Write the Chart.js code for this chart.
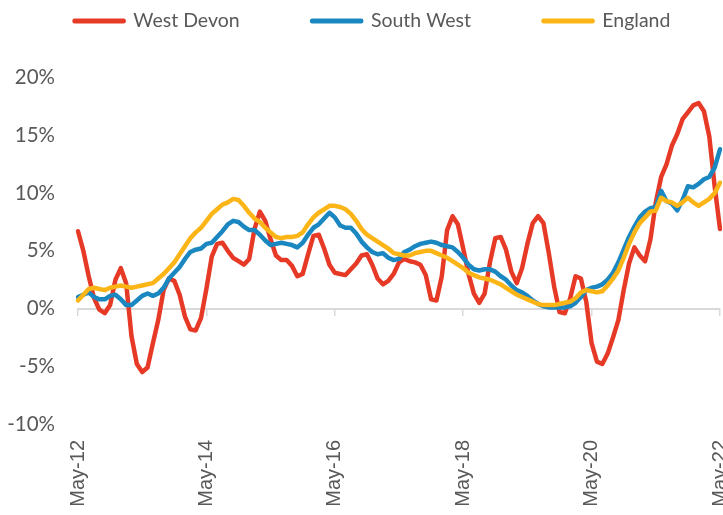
<!DOCTYPE html>
<html>
<head>
<meta charset="utf-8">
<script src="https://cdn.jsdelivr.net/npm/chart.js@4/dist/chart.umd.min.js"></script>
<style>
html,body{margin:0;padding:0;background:#ffffff;overflow:hidden;}
#wrap{width:723px;height:515px;position:relative;}
canvas{display:block;}
</style>
</head>
<body>
<div id="wrap"><canvas id="c" width="723" height="515"></canvas></div>
<script>
const categories = [
  'May-12','Jun-12','Jul-12','Aug-12','Sep-12','Oct-12','Nov-12','Dec-12',
  'Jan-13','Feb-13','Mar-13','Apr-13','May-13','Jun-13','Jul-13','Aug-13','Sep-13','Oct-13','Nov-13','Dec-13',
  'Jan-14','Feb-14','Mar-14','Apr-14','May-14','Jun-14','Jul-14','Aug-14','Sep-14','Oct-14','Nov-14','Dec-14',
  'Jan-15','Feb-15','Mar-15','Apr-15','May-15','Jun-15','Jul-15','Aug-15','Sep-15','Oct-15','Nov-15','Dec-15',
  'Jan-16','Feb-16','Mar-16','Apr-16','May-16','Jun-16','Jul-16','Aug-16','Sep-16','Oct-16','Nov-16','Dec-16',
  'Jan-17','Feb-17','Mar-17','Apr-17','May-17','Jun-17','Jul-17','Aug-17','Sep-17','Oct-17','Nov-17','Dec-17',
  'Jan-18','Feb-18','Mar-18','Apr-18','May-18','Jun-18','Jul-18','Aug-18','Sep-18','Oct-18','Nov-18','Dec-18',
  'Jan-19','Feb-19','Mar-19','Apr-19','May-19','Jun-19','Jul-19','Aug-19','Sep-19','Oct-19','Nov-19','Dec-19',
  'Jan-20','Feb-20','Mar-20','Apr-20','May-20','Jun-20','Jul-20','Aug-20','Sep-20','Oct-20','Nov-20','Dec-20',
  'Jan-21','Feb-21','Mar-21','Apr-21','May-21','Jun-21','Jul-21','Aug-21','Sep-21','Oct-21','Nov-21','Dec-21',
  'Jan-22','Feb-22','Mar-22','Apr-22','May-22'
];

const seriesNames = ['West Devon', 'South West', 'England'];

const westDevon = [
  6.7, 5.0, 2.8, 0.9, -0.1, -0.4, 0.3, 2.5, 3.5, 2.2,
  -2.4, -4.8, -5.5, -5.1, -3.0, -1.0, 1.6, 2.6, 2.4, 1.2,
  -0.7, -1.8, -1.9, -0.8, 1.7, 4.5, 5.6, 5.7, 5.0, 4.4,
  4.1, 3.8, 4.3, 6.9, 8.4, 7.6, 6.0, 4.6, 4.2, 4.2,
  3.7, 2.8, 3.0, 4.7, 6.3, 6.4, 5.2, 3.8, 3.1, 3.0,
  2.9, 3.4, 3.9, 4.6, 4.7, 3.8, 2.6, 2.1, 2.4, 3.0,
  4.0, 4.3, 4.1, 4.0, 3.8, 2.9, 0.8, 0.7, 2.8, 6.8,
  8.0, 7.3, 5.2, 3.0, 1.3, 0.5, 1.3, 4.0, 6.1, 6.2,
  5.1, 3.2, 2.2, 3.5, 5.6, 7.4, 8.0, 7.4, 4.8, 1.9,
  -0.3, -0.4, 0.9, 2.8, 2.6, 0.6, -3.0, -4.6, -4.8, -3.9,
  -2.5, -1.0, 1.6, 3.9, 5.3, 4.6, 4.1, 6.0, 9.2, 11.4,
  12.5, 14.1, 15.1, 16.4, 17.0, 17.6, 17.8, 17.1, 14.9, 10.6,
  6.9
];

const southWest = [
  1.0, 1.2, 1.4, 1.0, 0.8, 0.8, 1.1, 1.2, 0.8, 0.3,
  0.3, 0.7, 1.1, 1.3, 1.1, 1.3, 1.8, 2.6, 3.1, 3.6,
  4.3, 4.9, 5.1, 5.2, 5.6, 5.7, 6.2, 6.7, 7.3, 7.6,
  7.5, 7.1, 6.8, 6.8, 6.4, 5.9, 5.5, 5.6, 5.7, 5.6,
  5.5, 5.3, 5.7, 6.4, 7.0, 7.3, 7.8, 8.3, 7.9, 7.2,
  7.0, 7.0, 6.5, 5.8, 5.3, 4.9, 4.7, 4.8, 4.4, 4.2,
  4.3, 4.9, 5.1, 5.4, 5.6, 5.7, 5.8, 5.7, 5.5, 5.4,
  5.3, 4.9, 4.4, 3.8, 3.4, 3.3, 3.4, 3.4, 3.2, 2.8,
  2.5, 2.0, 1.6, 1.4, 1.1, 0.7, 0.4, 0.2, 0.1, 0.1,
  0.1, 0.1, 0.2, 0.5, 1.0, 1.6, 1.8, 1.9, 2.1, 2.5,
  3.1, 4.0, 5.1, 6.2, 7.1, 7.9, 8.4, 8.7, 8.8, 10.2,
  9.3, 9.1, 8.5, 9.4, 10.6, 10.5, 10.8, 11.2, 11.4, 12.2,
  13.8
];

const england = [
  0.7, 1.2, 1.7, 1.8, 1.7, 1.6, 1.8, 1.9, 2.0, 1.9,
  1.8, 1.9, 2.0, 2.1, 2.2, 2.6, 3.0, 3.5, 4.0, 4.7,
  5.4, 6.1, 6.6, 7.0, 7.6, 8.2, 8.6, 9.0, 9.2, 9.5,
  9.4, 8.9, 8.3, 7.8, 7.5, 7.0, 6.6, 6.2, 6.1, 6.2,
  6.2, 6.3, 6.6, 7.3, 7.9, 8.3, 8.6, 8.9, 8.9, 8.8,
  8.6, 8.2, 7.6, 6.9, 6.4, 6.1, 5.8, 5.5, 5.2, 4.8,
  4.7, 4.6, 4.6, 4.8, 4.9, 5.0, 5.0, 4.8, 4.6, 4.4,
  4.1, 3.8, 3.5, 3.1, 2.9, 2.7, 2.6, 2.5, 2.3, 2.1,
  1.8, 1.5, 1.2, 1.0, 0.8, 0.6, 0.4, 0.3, 0.3, 0.3,
  0.4, 0.5, 0.6, 0.9, 1.4, 1.6, 1.5, 1.4, 1.5, 2.0,
  2.6, 3.3, 4.4, 5.6, 6.6, 7.4, 7.9, 8.4, 8.5, 9.6,
  9.3, 9.2, 8.9, 9.2, 9.6, 9.2, 8.9, 9.2, 9.5, 10.0,
  10.9
];

const xTickLabels = ['May-12', 'May-14', 'May-16', 'May-18', 'May-20', 'May-22'];
// y axis: labelled ticks run -10%..20% in steps of 5; the plot area extends a little above 20%
const yMin = -10, yMax = 23.2, yStep = 5;

const colors = ['#E63A27', '#1A87C0', '#FCB517'];
const textColor = '#595959';
const axisColor = '#D9D9D9';

Chart.defaults.font.family = 'Lato';

new Chart(document.getElementById('c'), {
  type: 'line',
  data: {
    labels: categories,
    datasets: [
      { label: seriesNames[0], data: westDevon, borderColor: colors[0], backgroundColor: colors[0], order: 2 },
      { label: seriesNames[1], data: southWest, borderColor: colors[1], backgroundColor: colors[1], order: 1 },
      { label: seriesNames[2], data: england, borderColor: colors[2], backgroundColor: colors[2], order: 0 }
    ]
  },
  options: {
    responsive: false,
    animation: false,
    events: [],
    layout: { padding: { top: -61.25, left: -6, right: -28, bottom: 0 } },
    elements: {
      point: { radius: 0 },
      line: { borderWidth: 4.5, tension: 0, borderCapStyle: 'round', borderJoinStyle: 'round' }
    },
    plugins: {
      tooltip: { enabled: false },
      legend: {
        position: 'top',
        align: 'center',
        labels: {
          boxWidth: 49,
          boxHeight: 0.5,
          padding: 72.5,
          color: textColor,
          font: { family: 'Lato', size: 19.5 },
          sort: (a, b) => a.datasetIndex - b.datasetIndex
        }
      }
    },
    scales: {
      x: {
        type: 'category',
        position: { y: 0 },
        grid: {
          display: true,
          drawOnChartArea: false,
          drawTicks: true,
          tickLength: 6,
          lineWidth: 1.5,
          color: (c) => (c.index % 24 === 0 ? axisColor : 'rgba(0,0,0,0)')
        },
        border: { display: true, color: axisColor, width: 2 },
        ticks: { display: false, autoSkip: false },
        afterFit: (s) => { s.paddingLeft = 0; s.paddingRight = 0; }
      },
      x2: {
        type: 'category',
        position: 'bottom',
        grid: { display: false, drawTicks: false },
        border: { display: false },
        ticks: {
          autoSkip: false,
          maxRotation: 90,
          minRotation: 90,
          padding: 16,
          color: textColor,
          font: { family: 'Liberation Sans', size: 20 },
          callback: function (v) {
            const l = this.getLabelForValue(v);
            return xTickLabels.includes(l) ? l : '';
          }
        },
        afterFit: (s) => { s.height = 91; s.paddingLeft = 0; s.paddingRight = 3; }
      },
      y: {
        min: yMin,
        max: yMax,
        grid: { display: false, drawTicks: false },
        border: { display: false },
        ticks: {
          stepSize: yStep,
          includeBounds: false,
          padding: 23,
          color: textColor,
          font: { family: 'Lato', size: 20.5 },
          callback: (v) => v + '%'
        },
        afterFit: (s) => { s.width = 84; }
      }
    }
  }
});
</script>
</body>
</html>
